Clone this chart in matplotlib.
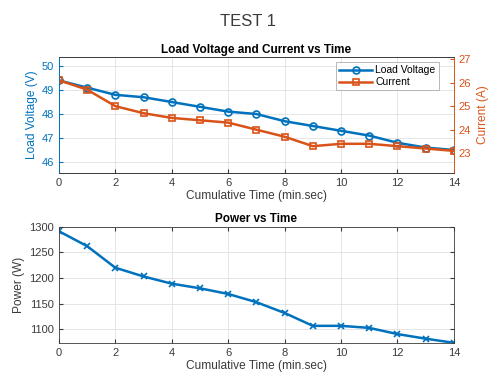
import numpy as np
import matplotlib.pyplot as plt
import matplotlib as mpl

mpl.rcParams['font.family'] = ['Liberation Sans', 'DejaVu Sans']

# Data
time = [0, 1, 2, 3, 4, 5, 6, 7, 8, 9, 10, 11, 12, 13, 14]
voltage = [49.4, 49.1, 48.8, 48.7, 48.5, 48.3, 48.1, 48.0, 47.7, 47.5, 47.3, 47.1, 46.8, 46.6, 46.5]
current = [26.1, 25.7, 25.0, 24.7, 24.5, 24.4, 24.3, 24.0, 23.7, 23.3, 23.4, 23.4, 23.3, 23.2, 23.1]
power = [1291, 1262, 1220, 1203, 1189, 1180, 1169, 1153, 1132, 1107, 1107, 1103, 1091, 1082, 1074]

blue = '#0072BD'
orange = '#D95319'
gray = '#3a3a3a'

fig = plt.figure(figsize=(4.95, 3.9), dpi=100)
fig.text(0.5, 0.945, 'TEST 1', ha='center', va='center', fontsize=12, color=gray)

# ---------------- Top: voltage and current ----------------
ax1 = fig.add_axes([0.119, 0.557, 0.798, 0.297])
ax2 = ax1.twinx()
l1, = ax1.plot(time, voltage, '-o', color=blue, lw=1.8, ms=5, mfc='none', mew=1.2, label='Load Voltage')
l2, = ax2.plot(time, current, '-s', color=orange, lw=1.8, ms=5, mfc='none', mew=1.2, label='Current')
ax1.set_xlim(0, 14)
ax1.set_ylim(45.55, 50.38)
ax2.set_ylim(22.17, 27.09)
ax1.set_xticks(range(0, 15, 2))
ax1.set_yticks([46, 47, 48, 49, 50])
ax2.set_yticks([23, 24, 25, 26, 27])
ax1.grid(True, color='#e0e0e0', lw=0.6)
ax1.set_axisbelow(True)
ax1.set_title('Load Voltage and Current vs Time', fontsize=8.5, fontweight='bold', pad=3)
ax1.set_xlabel('Cumulative Time (min.sec)', fontsize=8.6, color=gray, labelpad=2)
ax1.set_ylabel('Load Voltage (V)', fontsize=8.6, color=blue, labelpad=3)
ax2.set_ylabel('Current (A)', fontsize=8.6, color=orange, labelpad=4)
ax1.tick_params(axis='x', labelsize=8, colors=gray, direction='in', length=3)
ax1.tick_params(axis='y', labelsize=8, colors=blue, direction='in', length=3)
ax2.tick_params(axis='y', labelsize=8, colors=orange, direction='in', length=3)
for s in ['top', 'bottom']:
    ax1.spines[s].set_color(gray)
    ax2.spines[s].set_color(gray)
ax1.spines['left'].set_color(blue)
ax2.spines['left'].set_color(blue)
ax2.spines['right'].set_color(orange)
ax1.spines['right'].set_color(orange)
for sp in list(ax1.spines.values()) + list(ax2.spines.values()):
    sp.set_linewidth(0.6)
leg = ax2.legend(handles=[l1, l2], loc='upper right', fontsize=7.5, frameon=True,
                 fancybox=False, edgecolor='#999999', handlelength=3.2,
                 borderpad=0.3, labelspacing=0.2, handletextpad=0.3,
                 bbox_to_anchor=(0.975, 1.0))
leg.get_frame().set_linewidth(0.6)

# ---------------- Bottom: power ----------------
ax3 = fig.add_axes([0.119, 0.121, 0.798, 0.298])
ax3.plot(time, power, '-x', color=blue, lw=1.8, ms=5, mew=1.2)
ax3.set_xlim(0, 14)
ax3.set_ylim(min(power), 1300)
ax3.set_xticks(range(0, 15, 2))
ax3.set_yticks([1100, 1150, 1200, 1250, 1300])
ax3.grid(True, color='#e0e0e0', lw=0.6)
ax3.set_axisbelow(True)
ax3.set_title('Power vs Time', fontsize=8.5, fontweight='bold', pad=3)
ax3.set_xlabel('Cumulative Time (min.sec)', fontsize=8.6, color=gray, labelpad=2)
ax3.set_ylabel('Power (W)', fontsize=8.6, color=gray, labelpad=3)
ax3.tick_params(labelsize=8, colors=gray, direction='in', length=3, right=True, top=True)
for sp in ax3.spines.values():
    sp.set_color(gray)
    sp.set_linewidth(0.6)

plt.savefig('out.png', dpi=100)
plt.close()
